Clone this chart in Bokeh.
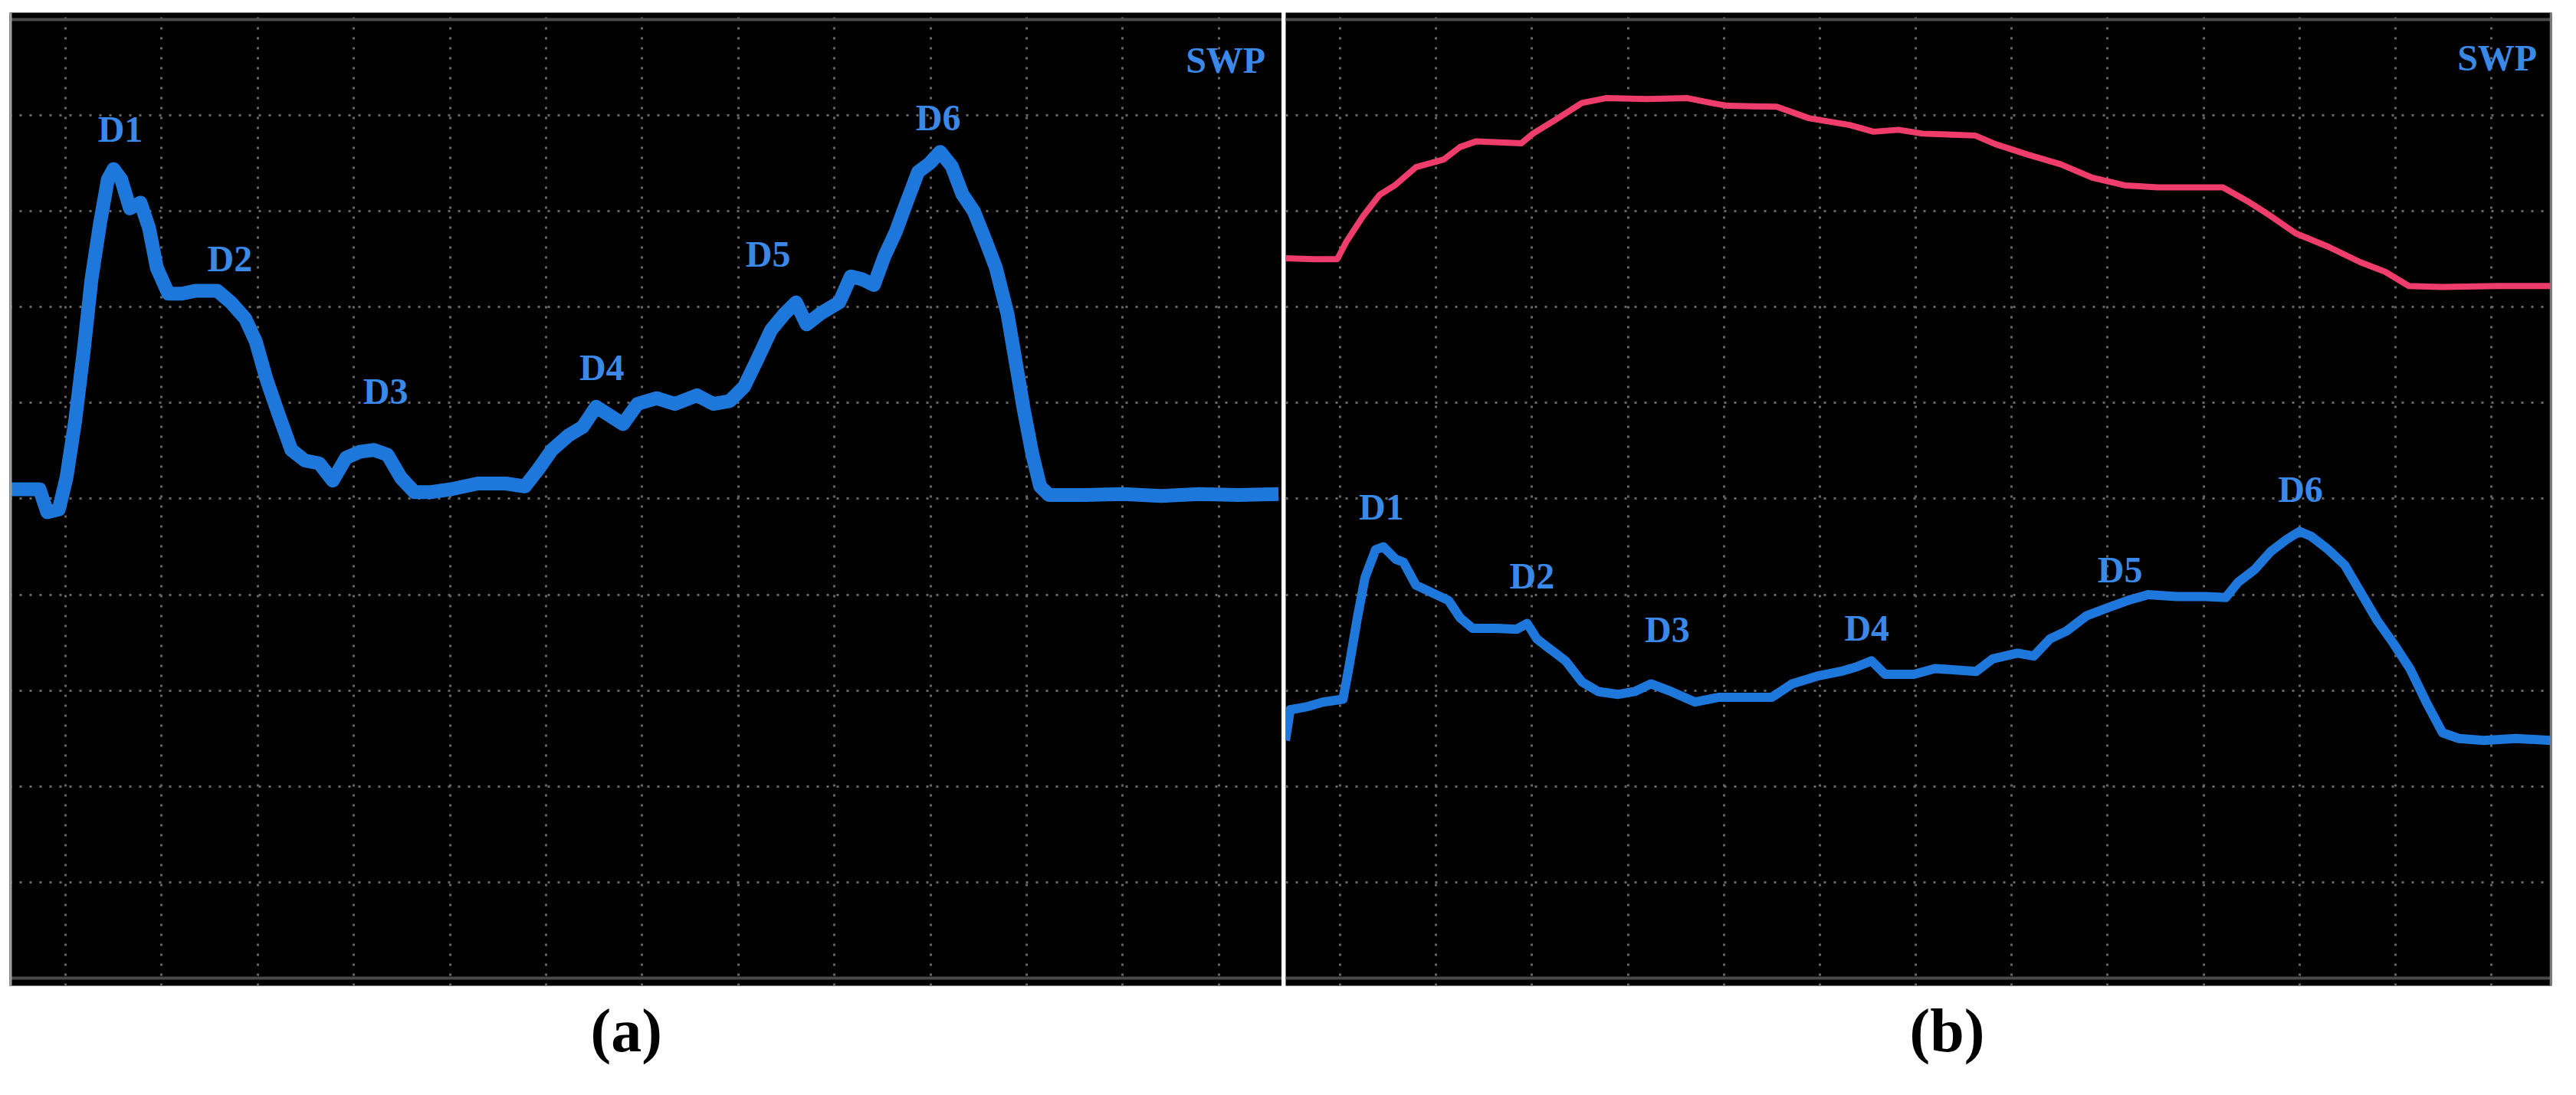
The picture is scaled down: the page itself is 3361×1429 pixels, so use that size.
from bokeh.plotting import figure
from bokeh.layouts import row
from bokeh.models import Range1d, FixedTicker, Span, Title, ColumnDataSource
from bokeh.core.properties import value
from bokeh.embed import file_html
from bokeh.resources import INLINE

# ---------------- data (grid-division units) ----------------
grid_x = list(range(1, 14))
grid_y = list(range(1, 10))

# panel (a): blue trace
a_x = [0.42, 0.73, 0.81, 0.93, 1.01, 1.10, 1.19, 1.27, 1.36, 1.44, 1.50, 1.58, 1.67, 1.78,
       1.87, 1.95, 2.07, 2.21, 2.35, 2.58, 2.72, 2.87, 2.98, 3.09, 3.21, 3.35, 3.49, 3.64,
       3.78, 3.92, 4.06, 4.21, 4.35, 4.49, 4.63, 4.80, 5.01, 5.29, 5.58, 5.78, 5.92, 6.06,
       6.23, 6.38, 6.52, 6.66, 6.80, 6.95, 7.15, 7.34, 7.57, 7.74, 7.91, 8.06, 8.20, 8.34,
       8.48, 8.60, 8.71, 8.85, 9.05, 9.17, 9.29, 9.41, 9.52, 9.64, 9.75, 9.87, 9.99, 10.10,
       10.22, 10.33, 10.45, 10.57, 10.68, 10.80, 10.88, 10.97, 11.06, 11.14, 11.23, 11.60,
       12.00, 12.40, 12.80, 13.20, 13.62]
a_y = [5.10, 5.10, 4.86, 4.89, 5.22, 5.81, 6.55, 7.29, 7.88, 8.33, 8.44, 8.33, 8.03, 8.09,
       7.82, 7.41, 7.14, 7.14, 7.17, 7.17, 7.05, 6.88, 6.64, 6.25, 5.90, 5.51, 5.40, 5.37,
       5.19, 5.43, 5.49, 5.51, 5.46, 5.22, 5.07, 5.07, 5.10, 5.16, 5.16, 5.13, 5.31, 5.51,
       5.66, 5.75, 5.96, 5.87, 5.78, 5.99, 6.05, 5.99, 6.08, 5.99, 6.02, 6.17, 6.46, 6.76,
       6.93, 7.05, 6.82, 6.93, 7.05, 7.32, 7.29, 7.23, 7.53, 7.79, 8.09, 8.41, 8.50, 8.62,
       8.47, 8.18, 8.00, 7.70, 7.41, 6.93, 6.46, 5.93, 5.46, 5.13, 5.04, 5.04,
       5.05, 5.03, 5.05, 5.04, 5.05]

# panel (b): red trace
b_red_x = [0.43, 0.73, 0.97, 1.07, 1.24, 1.41, 1.57, 1.79, 2.08, 2.25, 2.42, 2.89, 3.01, 3.27,
           3.52, 3.77, 4.20, 4.62, 4.87, 5.04, 5.55, 5.89, 6.31, 6.56, 6.82, 7.07, 7.62, 7.83,
           8.17, 8.51, 8.84, 9.18, 9.52, 10.20, 10.45, 10.70, 10.96, 11.30, 11.63, 11.89,
           12.14, 12.48, 13.07, 13.62]
b_red_y = [7.51, 7.50, 7.50, 7.69, 7.95, 8.17, 8.27, 8.46, 8.54, 8.67, 8.73, 8.71, 8.81, 8.97,
           9.13, 9.18, 9.17, 9.18, 9.13, 9.10, 9.09, 8.97, 8.90, 8.83, 8.85, 8.81, 8.79, 8.70,
           8.59, 8.49, 8.35, 8.27, 8.25, 8.25, 8.11, 7.95, 7.77, 7.63, 7.47, 7.37,
           7.22, 7.21, 7.22, 7.22]

# panel (b): blue trace
b_blue_x = [0.43, 0.48, 0.65, 0.82, 1.03, 1.09, 1.18, 1.26, 1.37, 1.45, 1.58, 1.66, 1.79, 1.96,
            2.13, 2.25, 2.38, 2.63, 2.84, 2.95, 3.05, 3.18, 3.35, 3.52, 3.69, 3.90, 4.07, 4.24,
            4.45, 4.70, 4.95, 5.25, 5.50, 5.71, 5.97, 6.22, 6.39, 6.54, 6.68, 6.98, 7.20, 7.63,
            7.80, 8.06, 8.23, 8.40, 8.57, 8.78, 8.99, 9.21, 9.42, 9.72, 10.02, 10.23, 10.36,
            10.53, 10.70, 10.87, 11.00, 11.12, 11.30, 11.47, 11.64, 11.81, 11.98, 12.15, 12.32,
            12.49, 12.66, 12.92, 13.26, 13.62]
b_blue_y = [2.48, 2.80, 2.83, 2.88, 2.91, 3.23, 3.76, 4.18, 4.47, 4.50, 4.37, 4.34, 4.10, 4.02,
            3.94, 3.76, 3.65, 3.65, 3.64, 3.70, 3.54, 3.44, 3.31, 3.09, 2.99, 2.96, 2.99, 3.07,
            2.99, 2.88, 2.93, 2.93, 2.93, 3.07, 3.15, 3.20, 3.25, 3.31, 3.17, 3.17, 3.23, 3.20,
            3.33, 3.39, 3.36, 3.54, 3.62, 3.78, 3.86, 3.94, 4.00, 3.98, 3.98, 3.97, 4.13,
            4.26, 4.45, 4.58, 4.66, 4.61, 4.47, 4.31, 4.02, 3.73, 3.49, 3.23, 2.88,
            2.56, 2.50, 2.48, 2.50, 2.48]

# peak labels
a_lab_text = ["D1", "D2", "D3", "D4", "D5", "D6", "SWP"]
a_lab_x = [1.57, 2.71, 4.33, 6.58, 8.31, 10.08, 13.07]
a_lab_y = [8.86, 7.51, 6.12, 6.37, 7.55, 8.98, 9.58]

b_lab_text = ["D1", "D2", "D3", "D4", "D5", "D6", "SWP"]
b_lab_x = [1.43, 3.00, 4.41, 6.49, 9.13, 11.01, 13.06]
b_lab_y = [4.92, 4.20, 3.64, 3.65, 4.26, 5.10, 9.60]

captions = ["(a)", "(b)"]

# ---------------- styling ----------------
BLUE = "#1E78DC"
LABEL_BLUE = "#3A88E8"
RED = "#EE3D6B"
GRID = "#666666"
FONT = "Liberation Serif"


def panel(width, xr, border_left, border_right, caption, cap_offset):
    p = figure(width=width, height=1413, x_range=Range1d(*xr), y_range=Range1d(-0.08, 10.072),
               output_backend="svg", toolbar_location=None,
               background_fill_color="black", border_fill_color="white",
               min_border_left=border_left, min_border_right=border_right,
               min_border_top=16, min_border_bottom=127)
    p.outline_line_color = None
    p.xaxis.visible = False
    p.yaxis.visible = False
    p.xgrid.ticker = FixedTicker(ticks=grid_x)
    p.ygrid.ticker = FixedTicker(ticks=grid_y)
    for g in (p.xgrid, p.ygrid):
        g.grid_line_color = GRID
        g.grid_line_width = 3
        g.grid_line_dash = "3 10"
    for yv in (0, 10):
        p.add_layout(Span(location=yv, dimension="width", line_color="#4A4A4A", line_width=4))
    t = Title(text=caption, align="left", offset=cap_offset, text_font=FONT,
              text_font_size="80px", text_font_style="bold", text_color="black", standoff=25)
    p.add_layout(t, "below")
    return p


def labels(p, xs, ys, texts):
    src = ColumnDataSource(dict(x=xs, y=ys, t=texts))
    p.text(x="x", y="y", text="t", source=src, text_font=value(FONT), text_font_style="bold",
           text_font_size="48px", text_color=LABEL_BLUE, text_align="center",
           text_baseline="alphabetic")


pa = panel(1672, (0.418, 13.655), 12, 0, captions[0], 758)
pa.add_layout(Span(location=0.43, dimension="height", line_color="#A0A0A0", line_width=3))
pa.line(a_x, a_y, line_color=BLUE, line_width=18, line_join="round")
labels(pa, a_lab_x, a_lab_y, a_lab_text)

pb = panel(1673, (0.433, 13.63), 5, 16, captions[1], 814)
pb.add_layout(Span(location=13.62, dimension="height", line_color="#7A7A7A", line_width=3))
pb.line(b_red_x, b_red_y, line_color=RED, line_width=8, line_join="round")
pb.line(b_blue_x, b_blue_y, line_color=BLUE, line_width=12, line_join="round")
labels(pb, b_lab_x, b_lab_y, b_lab_text)

layout = row(pa, pb)
open("out.html", "w").write(file_html(layout, INLINE))
